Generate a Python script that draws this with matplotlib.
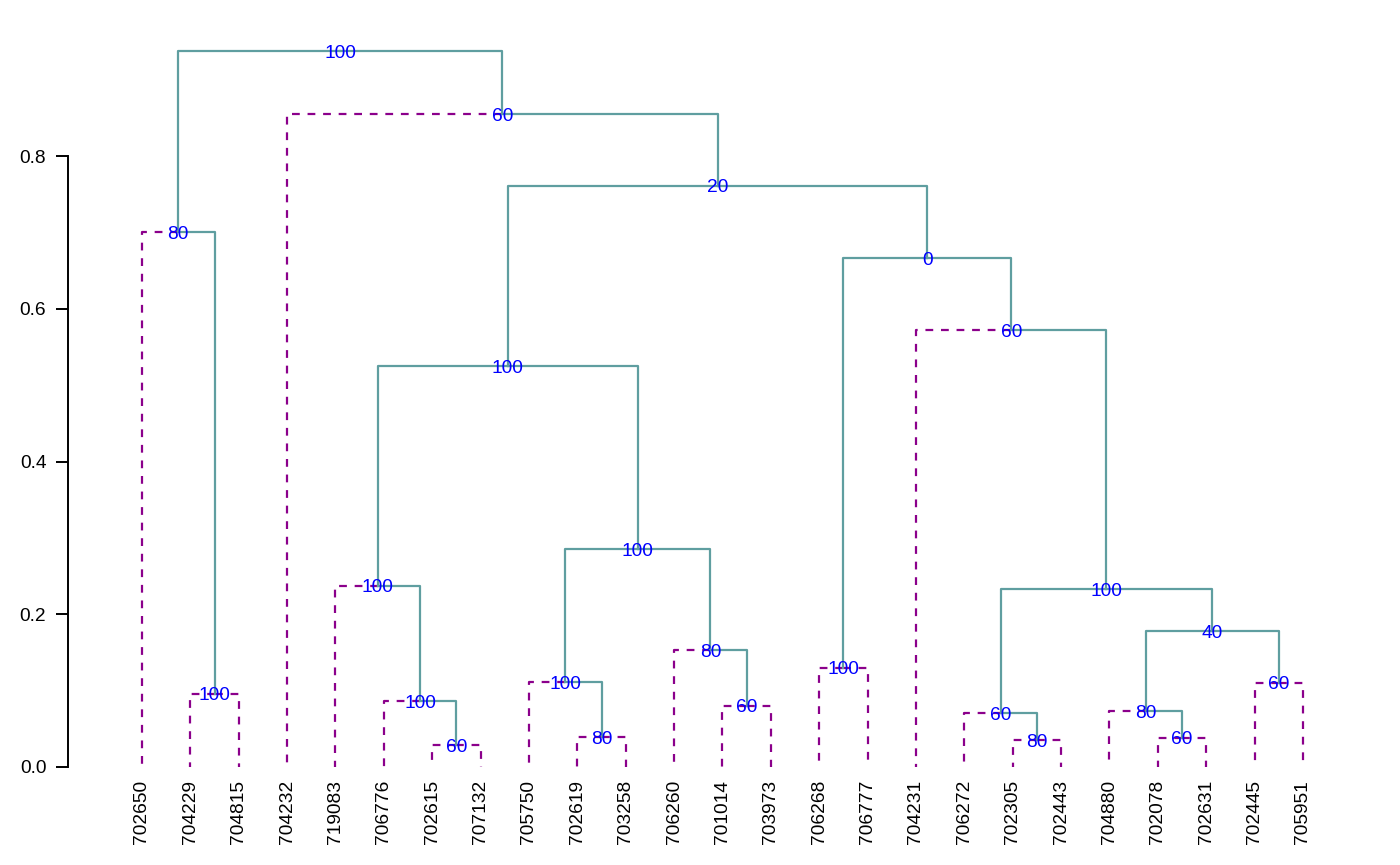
import matplotlib.pyplot as plt

plt.rcParams['font.family'] = ['Liberation Sans', 'DejaVu Sans']
plt.rcParams['lines.scale_dashes'] = False

# leaf labels in plotting order
labels = ['702650', '704229', '704815', '704232', '719083', '706776', '702615',
          '707132', '705750', '702619', '703258', '706260', '701014', '703973',
          '706268', '706777', '704231', '706272', '702305', '702443', '704880',
          '702078', '702631', '702445', '705951']

# R style merge table: negative = leaf (1-based), positive = earlier merge
merge_left = [-2, -1, -7, -6, -5, -10, -9, -13, -12, 7, 5, -15, -19, -18,
              -22, -21, -24, 16, 14, -17, 12, 11, -4, 2]
merge_right = [-3, 1, -8, 3, 4, -11, 6, -14, 8, 9, 10, -16, -20, 13,
               -23, 15, -25, 17, 18, 19, 20, 21, 22, 23]
heights = [0.0956, 0.700, 0.0288, 0.0864, 0.237, 0.039, 0.111, 0.080, 0.153,
           0.2854, 0.525, 0.130, 0.035, 0.0707, 0.038, 0.073, 0.110, 0.178,
           0.233, 0.572, 0.666, 0.761, 0.855, 0.9375]
support = [100, 80, 60, 100, 100, 80, 100, 60, 80, 100, 100, 100, 80, 60,
           60, 80, 60, 40, 100, 60, 0, 20, 60, 100]

teal = '#5F9EA0'
purple = '#8B008B'

fig = plt.figure(figsize=(14, 8.65), dpi=100)
ax = fig.add_axes([68 / 1400, 0.1133, (1380 - 68) / 1400, 0.8476])


def pos(k, node_x):
    # x and height of a leaf or a merge
    if k < 0:
        return -k - 1, 0.0
    return node_x[k - 1], heights[k - 1]


node_x = []
for i in range(len(heights)):
    xl, hl = pos(merge_left[i], node_x)
    xr, hr = pos(merge_right[i], node_x)
    xm = (xl + xr) / 2
    node_x.append(xm)
    h = heights[i]
    for k, xc, hc in [(merge_left[i], xl, hl), (merge_right[i], xr, hr)]:
        if k < 0:
            ax.plot([xm, xc, xc], [h, h, hc], color=purple, lw=1.6,
                    linestyle=(0, (5.6, 5.6)), clip_on=False)
        else:
            ax.plot([xm, xc, xc], [h, h, hc], color=teal, lw=1.6,
                    clip_on=False)

for i in range(len(heights)):
    ax.text(node_x[i], heights[i], str(support[i]), color='blue',
            fontsize=13.8, ha='center', va='center_baseline', zorder=5)

for i, lab in enumerate(labels):
    ax.annotate(lab, xy=(i, 0), xytext=(0, -9.2), textcoords='offset points',
                rotation=90, ha='center', va='top', fontsize=13.8,
                annotation_clip=False)

ax.set_xlim(-1.5297, 25.592)
ax.set_ylim(0, 0.96)
ax.set_xticks([])
ax.set_yticks([0, 0.2, 0.4, 0.6, 0.8])
ax.set_yticklabels(['0.0', '0.2', '0.4', '0.6', '0.8'])
ax.tick_params(axis='y', direction='out', length=8.6, width=1.4, pad=7,
               labelsize=13.8)
for s in ['top', 'right', 'bottom']:
    ax.spines[s].set_visible(False)
ax.spines['left'].set_bounds(0, 0.8)
ax.spines['left'].set_linewidth(1.4)
ax.patch.set_visible(False)

fig.savefig('out.png', dpi=100)
